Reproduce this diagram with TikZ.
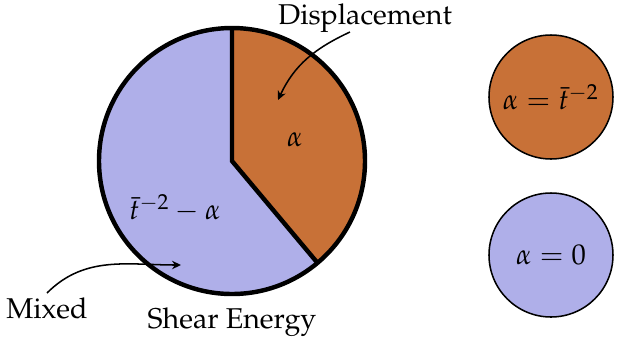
\documentclass[tikz,border=0pt]{standalone}
\usepackage[T1]{fontenc}
\usepackage{mathpazo}
\usetikzlibrary{arrows.meta,calc}
\definecolor{orng}{HTML}{C87137}
\definecolor{lav}{HTML}{AFAFE9}
\tikzset{
  lbl/.style={inner sep=0pt, font=\fontsize{10.3}{12}\selectfont},
  callout/.style={-{Stealth[length=3.2pt,width=3pt,inset=1pt]}, line width=0.55pt},
  bigline/.style={line width=1.6pt, line join=miter},
  smallc/.style={draw=black, line width=0.55pt, circle, minimum size=124*0.36pt, inner sep=0pt, font=\fontsize{10.3}{12}\selectfont}
}
\begin{document}
\begin{tikzpicture}[x=0.36pt,y=0.36pt]
\useasboundingbox (0,0) rectangle (619,337);
\coordinate (c) at (232,176);
\fill[orng] (c) -- ++(90:133) arc (90:-50:133) -- cycle;
\fill[lav] (c) -- ++(-50:133) arc (-50:-270:133) -- cycle;
\draw[bigline] (c) circle (133);
\draw[bigline] ($(c)+(90:133)$) -- (c) -- ($(c)+(-50:133)$);
\node[lbl] (a) at (295,197) {$\alpha$};
\node[lbl] (ta) at (175,129) {$\bar{t}^{-2}-\alpha$};
\node[lbl] (disp) at (365,319) {Displacement};
\node[lbl] (mix) at (47,29) {Mixed};
\node[lbl] (she) at (232,15) {Shear Energy};
\coordinate (dend) at (278,237);
\coordinate (mend) at (181,72);
\draw[callout] (350,305) to[out=205,in=65] (dend);
\draw[callout] (47,44) to[out=45,in=180] (mend);
\node[smallc, fill=orng] (o) at (551,240) {$\alpha=\bar{t}^{-2}$};
\node[smallc, fill=lav] (p) at (551,82) {$\alpha=0$};
\end{tikzpicture}
\end{document}
